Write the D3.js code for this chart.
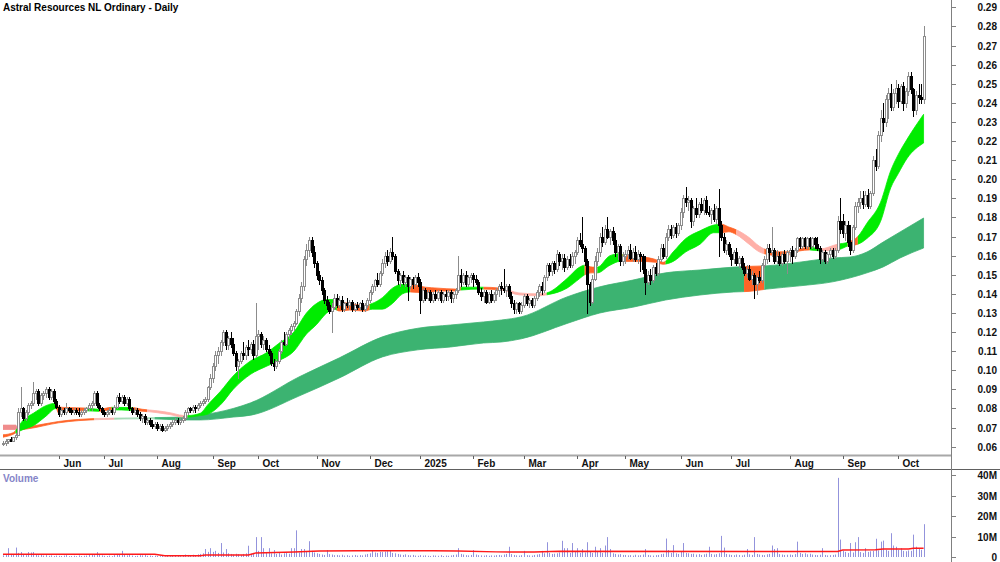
<!DOCTYPE html>
<html>
<head>
<meta charset="utf-8">
<script src="https://cdn.jsdelivr.net/npm/d3@7"></script>
<style>
  body { margin: 0; background: #fff; }
  svg text {
    font-family: "Liberation Sans", Arial, Helvetica, sans-serif;
    font-weight: bold;
    font-size: 10px;
  }
</style>
</head>
<body>
<svg id="chart" width="1000" height="562"></svg>
<script>
// ---------------- data ----------------
var title = "Astral Resources NL Ordinary - Daily";

var firstDay = "2024-05-02", lastDay = "2025-10-15";
var holidays = ["2024-06-10", "2024-12-25", "2024-12-26", "2025-01-01", "2025-01-27",
                "2025-04-18", "2025-04-21", "2025-04-25", "2025-06-09"];
// days with no bar on the chart
var noTradeDays = ["2024-06-20", "2024-07-09", "2024-07-25", "2024-09-10", "2024-09-11", "2024-09-12"];

// open high low close, in thousandths of a dollar, one string per month
var ohlcByMonth = [
  // May 2024
  "62 63 61 62,62 64 61 63,63 64 62 64,64 65 63 63,63 65 63 65,65 67 64 66,66 80 66 78,78 91 76 80,80 81 74 75,75 79 74 78,78 83 77 82,82 84 80 83,83 94 82 88,88 90 85 89,89 90 82 83,83 88 82 87,87 89 85 88,88 91 86 90,90 91 85 86,86 90 85 89,89 90 83 84,84 85 80 81",
  // Jun 2024
  "81 82 76 77,77 80 76 79,79 80 77 78,78 83 77 80,80 81 78 79,79 80 77 78,78 80 77 79,79 80 77 78,78 80 76 77,77 79 76 78,78 80 77 79,79 81 78 80,80 83 79 82,82 84 79 83,83 89 82 88,88 89 81 82,82 83 79 80,80 81 77 78",
  // Jul 2024
  "78 79 76 77,77 79 76 78,78 80 77 79,79 80 77 78,78 82 77 81,81 87 80 86,86 88 83 84,84 87 83 86,86 87 82 83,83 86 82 85,85 86 79 80,80 81 77 78,78 80 77 79,79 80 76 77,77 78 74 75,75 77 73 76,76 77 72 73,73 75 72 74,74 75 71 72,72 74 70 71,71 73 70 72",
  // Aug 2024
  "72 73 69 70,70 72 69 71,71 72 68 69,69 71 68 70,70 72 69 71,71 73 70 72,72 74 71 73,73 75 72 74,74 75 72 73,73 75 72 74,74 76 73 75,75 79 74 78,78 81 77 80,80 81 78 79,79 82 78 81,81 82 78 80,80 83 79 82,82 84 81 83,83 85 82 84,84 86 83 85,85 92 84 91,91 98 90 96",
  // Sep 2024
  "96 104 94 102,102 110 100 108,108 112 104 110,110 116 108 115,115 121 113 120,120 121 111 113,113 118 111 117,117 120 112 114,114 117 108 109,109 110 100 102,102 106 96 105,105 110 104 109,109 115 106 108,108 113 106 112,112 116 108 111,111 115 109 114,114 116 106 108,108 135 107 118",
  // Oct 2024
  "118 121 111 119,119 120 112 114,114 118 111 116,116 117 110 111,111 113 108 109,109 110 103 104,104 106 100 102,102 106 101 105,105 111 104 110,110 116 109 115,115 120 113 114,114 120 113 119,119 122 117 121,121 124 119 123,123 126 121 125,125 132 124 131,131 140 129 138,138 146 136 144,144 160 142 158,158 166 155 163,163 170 160 168,168 170 160 162,162 165 154 156",
  // Nov 2024
  "156 157 148 150,150 152 145 147,147 149 140 142,142 143 135 137,137 139 132 134,134 136 130 131,131 135 120 133,133 140 132 138,138 140 133 134,134 139 133 137,137 139 131 132,132 136 131 135,135 138 133 134,134 137 132 136,136 137 131 132,132 135 131 134,134 136 132 133,133 136 132 135,135 137 131 132,132 135 131 134,134 138 133 137",
  // Dec 2024
  "137 142 136 141,141 145 140 144,144 148 142 147,147 151 144 145,145 152 144 151,151 158 150 156,156 162 154 160,160 163 155 157,157 164 156 162,162 170 158 160,160 161 151 152,152 153 145 147,147 151 144 150,150 152 145 146,146 150 144 149,149 150 137 144,144 149 143 148,148 149 143 145,145 150 144 149,149 151 144 146",
  // Jan 2025
  "146 148 130 137,137 143 136 142,142 143 137 138,138 142 137 141,141 142 136 137,137 141 136 140,140 142 137 138,138 142 137 141,141 142 136 137,137 141 136 140,140 142 137 139,139 142 137 141,141 142 136 138,138 141 136 140,140 143 138 142,142 160 141 150,150 153 144 146,146 151 145 150,150 152 144 145,145 150 144 149,149 151 146 150",
  // Feb 2025
  "150 151 144 148,148 150 145 146,146 147 140 141,141 143 137 139,139 142 136 141,141 142 135 136,136 141 135 140,140 142 136 137,137 141 136 140,140 143 137 142,142 145 139 144,144 146 140 143,143 153 141 142,142 145 139 144,144 145 138 139,139 141 133 135,135 137 130 132,132 136 130 135,135 136 130 131,131 136 130 134",
  // Mar 2025
  "134 140 133 139,139 140 134 135,135 138 133 137,137 138 133 134,134 139 133 138,138 142 137 141,141 145 139 144,144 146 140 142,142 150 141 149,149 156 147 155,155 156 150 152,152 157 150 156,156 157 151 153,153 163 152 161,161 162 155 157,157 161 153 159,159 161 152 154,154 160 153 158,158 161 154 155,155 162 154 160,160 163 156 162",
  // Apr 2025
  "162 170 161 168,168 172 165 166,166 180 162 164,164 165 155 157,157 158 130 145,145 146 134 136,136 150 135 148,148 160 147 157,157 164 155 162,162 172 160 170,170 175 165 167,167 176 166 174,174 180 169 170,170 174 166 173,173 175 166 168,168 172 160 162,162 166 158 165,165 166 155 157,157 162 155 160",
  // May 2025
  "160 163 156 161,161 165 158 163,163 166 158 159,159 164 157 162,162 165 157 158,158 163 156 161,161 162 152 160,160 161 151 153,153 160 140 146,146 152 145 150,150 153 145 147,147 155 146 154,154 156 150 151,151 160 150 158,158 166 157 164,164 166 159 160,160 172 159 170,170 176 168 174,174 176 169 171,171 176 170 175,175 177 170 172,172 177 171 176",
  // Jun 2025
  "176 185 174 183,183 192 180 190,190 196 186 188,188 191 184 189,189 190 175 178,178 186 176 185,185 190 180 182,182 188 180 187,187 190 183 184,184 190 182 189,189 191 182 183,183 186 181 182,182 185 177 184,184 187 178 179,179 186 177 185,185 195 160 176,176 178 168 170,170 172 162 163,163 168 161 166,166 167 160 161",
  // Jul 2025
  "161 164 155 158,158 163 156 162,162 164 155 156,156 160 154 159,159 160 153 154,154 156 150 151,151 155 149 153,153 155 147 148,148 152 145 150,150 151 138 145,145 150 140 149,149 152 146 147,147 156 146 155,155 160 154 158,158 166 156 164,164 166 157 162,162 175 160 163,163 164 156 157,157 163 156 160,160 162 155 156,156 162 155 161,161 163 156 157,157 163 151 162",
  // Aug 2025
  "162 164 157 163,163 165 156 160,160 164 159 163,163 170 162 169,169 170 164 165,165 170 164 169,169 170 164 165,165 170 164 169,169 170 164 165,165 170 164 169,169 170 164 166,166 170 163 164,164 165 156 158,158 163 157 162,162 163 156 157,157 162 156 161,161 164 159 163,163 164 159 160,160 164 159 163,163 181 162 178,178 190 172 174",
  // Sep 2025
  "178 182 170 172,172 178 168 176,176 178 165 167,167 176 161 163,163 176 162 175,175 188 174 186,186 190 183 188,188 194 185 190,190 194 185 187,187 194 186 192,192 195 185 186,186 194 185 193,193 212 192 210,210 216 205 207,207 225 206 223,223 236 220 232,232 240 225 230,230 244 228 242,242 248 232 245,245 250 236 238,238 247 236 245,245 252 240 248",
  // Oct 2025
  "248 250 238 241,241 250 240 249,249 251 236 240,240 248 238 246,246 256 244 254,254 256 245 247,247 248 233 236,236 246 234 244,244 250 240 243,243 250 240 242,242 280 240 275"
];

// daily volume in millions, one array per month
var volumeByMonth = [
  [0.8,1.2,4.3,1.5,1.0,4.6,2.0,2.4,1.2,0.9,2.4,2.2,2.4,1.0,0.8,1.1,0.7,0.9,0.6,0.8,0.5,0.7],
  [0.6,0.5,0.7,0.9,0.4,0.5,0.6,0.4,0.8,0.5,0.6,0.7,1.0,1.2,0.9,2.4,1.3,0.8],
  [0.6,0.5,0.7,0.4,0.9,1.5,1.2,3.0,1.4,0.8,1.1,0.7,0.5,0.6,0.9,0.8,1.0,0.6,0.7,0.5,0.6],
  [0.5,0.4,0.6,0.3,0.5,0.4,0.6,0.5,0.7,0.4,0.6,1.2,1.0,0.8,1.1,0.9,1.3,1.5,1.8,3.9,2.5,4.3],
  [2.5,3.0,2.0,6.8,2.2,3.9,1.8,1.5,1.2,1.6,1.4,1.0,1.5,1.8,5.5,1.6,2.0,9.7],
  [3.0,9.7,4.3,2.0,4.3,1.8,3.4,1.5,2.4,1.2,1.8,2.0,1.6,4.3,4.3,13.0,2.2,3.9,3.9,2.5,7.7,3.0,2.2],
  [1.8,1.5,1.2,1.0,3.4,1.4,1.2,0.9,1.0,0.8,1.1,0.7,0.9,0.6,0.8,1.0,0.7,0.9,0.8,1.2,1.5],
  [1.8,3.4,2.2,2.0,2.5,2.4,2.6,2.8,3.4,2.0,1.8,1.5,1.2,1.0,1.3,0.9,0.8,1.0,0.7,0.6],
  [0.9,0.7,0.8,0.6,0.5,0.8,0.7,0.6,0.9,0.5,0.7,0.6,0.8,1.0,1.2,4.3,1.5,1.2,0.9,0.8,1.0],
  [3.4,1.2,0.9,0.8,0.7,0.9,0.6,0.8,0.7,0.9,1.0,0.8,1.2,1.5,5.0,1.4,1.0,0.8,0.7,0.9],
  [3.0,0.9,0.8,0.7,1.0,1.2,1.4,3.0,1.8,7.2,2.0,1.5,1.6,1.8,2.2,7.9,4.3,4.3,2.0,6.8,2.4],
  [4.3,2.0,3.9,2.2,7.2,2.5,2.0,5.0,2.4,4.3,2.0,5.6,9.7,3.9,1.8,1.5,1.2,1.4,1.0],
  [1.0,0.8,0.9,0.7,1.1,0.8,0.9,1.2,3.9,1.0,0.8,0.7,0.9,1.0,1.4,1.6,9.0,3.4,2.0,5.8,1.8,1.5],
  [2.5,6.8,2.0,1.8,1.5,1.6,1.2,1.4,1.0,1.3,1.6,5.0,1.5,1.2,1.4,1.8,10.3,4.6,1.5,1.2],
  [1.0,0.9,1.2,1.0,0.8,1.1,3.9,1.3,1.0,9.7,1.5,1.2,1.0,0.9,1.3,1.5,5.6,3.9,4.3,1.4,1.2,1.0,1.1],
  [1.2,1.0,1.4,7.5,2.0,1.5,1.8,1.3,1.6,1.2,1.0,0.9,1.1,4.3,1.0,0.8,0.9,1.0,1.2,38.6,8.5],
  [3.0,2.5,2.0,6.8,2.2,7.2,9.7,2.4,2.0,4.3,2.5,2.8,3.0,8.9,3.2,7.5,8.0,3.5,3.0,11.6,5.6,5.0],
  [3.5,4.3,3.0,2.8,3.2,3.0,10.9,5.0,4.3,3.5,16.0]
];

// volume average line: [bar index, millions]
var volumeAverage = [[0,1.3],[60,1.3],[64,0.6],[78,0.6],[80,1.0],[97,1.0],[100,2.0],[115,2.4],[125,2.9],
  [140,3.0],[170,3.0],[180,2.9],[195,2.5],[210,2.4],[220,2.8],[330,2.7],[332,3.4],[345,3.5],[348,3.9],
  [358,3.9],[360,4.3],[364,4.3]];

// short-term ribbon: [bar index, low, high] in thousandths
var shortRibbon = [[0,65,66.2],[4,66.5,67.3],[5,67.2,68.5],[8,69,74],[12,71,77.5],[17,76,81.5],[21,80,82.8],
  [22,77.5,80.8],[25,78.5,80.5],[33,78.8,80.2],[38,78.5,79.6],[43,79.3,80.6],[51,79,80.5],[55,78.6,79.6],
  [61,77.8,78.8],[66,76.8,77.8],[71,75.5,76.4],[73,75.5,76.3],[78,76.3,77.5],[81,77,82],[86,81.9,89],
  [91,90,97],[98,98,105],[104,102,109],[109,105,114],[115,110,120],[120,119,130],[124,124,135],
  [128,130,137],[131,132,137],[133,131,136],[137,131.5,135],[143,131,134],[146,132,135],[150,132,138],
  [154,135,143],[158,140,145],[161,141,145],[167,140.5,143.5],[172,141.5,143],[179,141.5,142.5],
  [181,142,143.5],[189,142.5,143.5],[197,142,143],[204,139.5,140.5],[212,139,140],[215,139.5,140.5],
  [223,143,148],[228,148,154],[230,150,155],[233,151,154],[235,151,154],[240,155,160],[244,157,161],
  [245,157,160.5],[252,157,159.5],[258,156.5,158],[261,155.5,156.5],[265,157,162],[270,162,169],
  [275.6,166,173],[281,172,176],[284,172,176.5],[287,172.5,175],[290,171,173.5],[295,166,169.5],
  [299,162,165],[301,161,163.5],[307,160,162],[311,160.5,162],[315,162.5,163.5],[319,163,164.5],
  [323,162.5,163.5],[330,163,166],[334,165,167],[338,166,170],[341.6,169,177],[347,178,188],
  [351,195.5,204.5],[354,203,213],[357.5,211,221],[364,219,234]];
// colour runs: [first bar index, colour key]
var shortRibbonRuns = [[0,"o"],[5,"g"],[21,"o"],[33,"g"],[38,"o"],[43,"g"],[51,"o"],[57,"p"],[73,"g"],
  [132,"o"],[145,"g"],[161,"o"],[181,"g"],[190,"o"],[197,"p"],[215,"g"],[230,"o"],[235,"g"],[245,"o"],
  [262,"g"],[284,"o"],[290,"p"],[301,"o"],[311,"p"],[314,"o"],[319,"g"],[323,"p"],[330,"g"],[334,"o"],[338,"g"]];

// long-term ribbon: [bar index, low, high] in thousandths
var longRibbon = [[0,69,71.3],[5,69,71.3],[6,68.8,69.6],[10,69.4,70.4],[22,72.5,73.2],[38,74.2,74.8],
  [58,74.6,75.2],[71,74,75.5],[78,74,76.5],[91,75.5,80],[98,76.5,83],[117,86.5,96.5],[133,96,106.5],
  [150,107,117.5],[164,110.7,122],[177,112.2,123.7],[190,114.3,125.3],[197,114.8,126.3],[205,116.5,128],
  [223,124.5,138.4],[236,130,143.7],[249,133,147.2],[262,136.8,151],[275.6,139.4,152.5],[289,141,154],
  [295,141.3,154.4],[302,142.5,154.7],[315,144.2,156.6],[328,146.3,158.8],[335,148.4,159.3],
  [341.6,151,161.9],[348,154.1,167.1],[354.7,158.8,172.4],[364,164,179.7]];
var longRibbonRuns = [[0,"r"],[6,"o"],[36,"q"],[44,"l"],[60,"G"],[293,"o"],[301,"G"]];

var priceTicks = [0.06,0.07,0.08,0.09,0.10,0.11,0.12,0.13,0.14,0.15,0.16,0.17,0.18,0.19,0.20,
                  0.21,0.22,0.23,0.24,0.25,0.26,0.27,0.28,0.29];
var volumeTicks = [0, 10, 20, 30, 40];
var monthNames = ["Jan","Feb","Mar","Apr","May","Jun","Jul","Aug","Sep","Oct","Nov","Dec"];

var ribbonColours = {
  g: "#00ec00", o: "#ff6428", p: "#ffb0a8",
  G: "#3cb371", r: "#f08c8c", q: "#f6b4ae", l: "#a3dbb5"
};

// ---------------- build the series ----------------
var parseDay = d3.timeParse("%Y-%m-%d"), fmtDay = d3.timeFormat("%Y-%m-%d");
var skip = new Set(holidays.concat(noTradeDays));
var days = d3.timeDay.range(parseDay(firstDay), d3.timeDay.offset(parseDay(lastDay), 1))
  .filter(function (d) { return d.getDay() % 6 !== 0 && !skip.has(fmtDay(d)); });

var bars = ohlcByMonth.join(",").split(",").map(function (s, i) {
  var v = s.trim().split(/\s+/).map(Number);
  return { i: i, o: v[0] / 1000, h: v[1] / 1000, l: v[2] / 1000, c: v[3] / 1000 };
});
var volumes = [].concat.apply([], volumeByMonth);
if (bars.length !== days.length || volumes.length !== days.length) {
  console.log("length mismatch", bars.length, volumes.length, days.length);
}

// ---------------- layout ----------------
var svg = d3.select("#chart");
var axisX = 952;

var x = d3.scaleLinear().domain([0, days.length - 1]).range([3, 923.6]);
var y = d3.scaleLinear().domain([0.06, 0.29]).range([446.7, 7.3]);
var yv = d3.scaleLinear().domain([0, 40]).range([557, 475]);

// frame lines
svg.append("line").attr("x1", 0).attr("x2", axisX).attr("y1", 455.5).attr("y2", 455.5)
  .attr("stroke", "#a8a8a8").attr("stroke-width", 2);
svg.append("line").attr("x1", 0).attr("x2", 1000).attr("y1", 469.5).attr("y2", 469.5)
  .attr("stroke", "#606060");
svg.append("line").attr("x1", axisX - 0.5).attr("x2", axisX - 0.5).attr("y1", 0).attr("y2", 562)
  .attr("stroke", "#808080");

// title
svg.append("text").attr("x", 3).attr("y", 11).attr("fill", "#000").text(title);

// ribbons: one area, clipped into colour runs
function drawRibbon(samples, runs, name) {
  var area = d3.area()
    .x(function (d) { return x(d[0]); })
    .y0(function (d) { return y(d[1] / 1000); })
    .y1(function (d) { return y(d[2] / 1000); })
    .curve(d3.curveMonotoneX);
  var last = samples[samples.length - 1][0];
  runs.forEach(function (r, k) {
    var from = r[0], to = k + 1 < runs.length ? runs[k + 1][0] : last;
    var id = name + k;
    svg.append("clipPath").attr("id", id).append("rect")
      .attr("x", x(from)).attr("width", Math.max(0, x(to) - x(from)) + (k + 1 < runs.length ? 0 : 1))
      .attr("y", 0).attr("height", 455);
    svg.append("path").datum(samples)
      .attr("clip-path", "url(#" + id + ")")
      .attr("fill", ribbonColours[r[1]])
      .attr("stroke", ribbonColours[r[1]]).attr("stroke-width", 0.8)
      .attr("d", area);
  });
}
drawRibbon(longRibbon, longRibbonRuns, "lr");
drawRibbon(shortRibbon, shortRibbonRuns, "sr");

// candles
var candle = svg.append("g").attr("class", "candles");
bars.forEach(function (d) {
  var cx = Math.round(x(d.i));
  var up = d.c >= d.o;
  var col = up ? "#8c8c8c" : "#000";
  candle.append("line")
    .attr("x1", cx + 0.5).attr("x2", cx + 0.5)
    .attr("y1", Math.round(y(d.h))).attr("y2", Math.round(y(d.l)) + 1)
    .attr("stroke", col);
  var top = Math.round(y(Math.max(d.o, d.c))), bot = Math.round(y(Math.min(d.o, d.c)));
  candle.append("rect")
    .attr("x", cx - 0.5).attr("y", top + 0.5)
    .attr("width", 2).attr("height", Math.max(bot - top, 1))
    .attr("fill", up ? "#fff" : "#000")
    .attr("stroke", col);
});

// price axis
priceTicks.forEach(function (p) {
  var yy = Math.round(y(p)) + 0.5;
  svg.append("line").attr("x1", axisX).attr("x2", axisX + 4).attr("y1", yy).attr("y2", yy).attr("stroke", "#808080");
  svg.append("text").attr("x", 997).attr("y", yy + 3.5).attr("text-anchor", "end").attr("fill", "#111")
    .text(p.toFixed(2));
});

// month ticks and labels
days.forEach(function (d, i) {
  if (i === 0 || d.getMonth() === days[i - 1].getMonth()) return;
  var tx = Math.round(x(i)) + 0.5;
  svg.append("line").attr("x1", tx).attr("x2", tx).attr("y1", 456).attr("y2", 459).attr("stroke", "#606060");
  svg.append("text").attr("x", tx + 4).attr("y", 466.5).attr("fill", "#111")
    .text(d.getMonth() === 0 ? String(d.getFullYear()) : monthNames[d.getMonth()]);
});

// volume panel
svg.append("text").attr("x", 3).attr("y", 481.5).attr("fill", "#8585c8").text("Volume");
var vol = svg.append("g");
volumes.forEach(function (v, i) {
  var vx = Math.round(x(i)) + 0.5;
  vol.append("line").attr("x1", vx).attr("x2", vx)
    .attr("y1", yv(0)).attr("y2", yv(v))
    .attr("stroke", "#9393dc");
});
svg.append("path").datum(volumeAverage)
  .attr("fill", "none").attr("stroke", "#ff1a1a").attr("stroke-width", 1.5)
  .attr("d", d3.line().x(function (d) { return x(d[0]); }).y(function (d) { return yv(d[1]); }));

volumeTicks.forEach(function (v) {
  var yy = Math.round(yv(v)) + 0.5;
  svg.append("line").attr("x1", axisX).attr("x2", axisX + 4).attr("y1", yy).attr("y2", yy).attr("stroke", "#808080");
  svg.append("text").attr("x", 997).attr("y", Math.min(yy + 3.8, 560.5)).attr("text-anchor", "end").attr("fill", "#111")
    .text(v === 0 ? "0" : v + "M");
});
</script>
</body>
</html>
